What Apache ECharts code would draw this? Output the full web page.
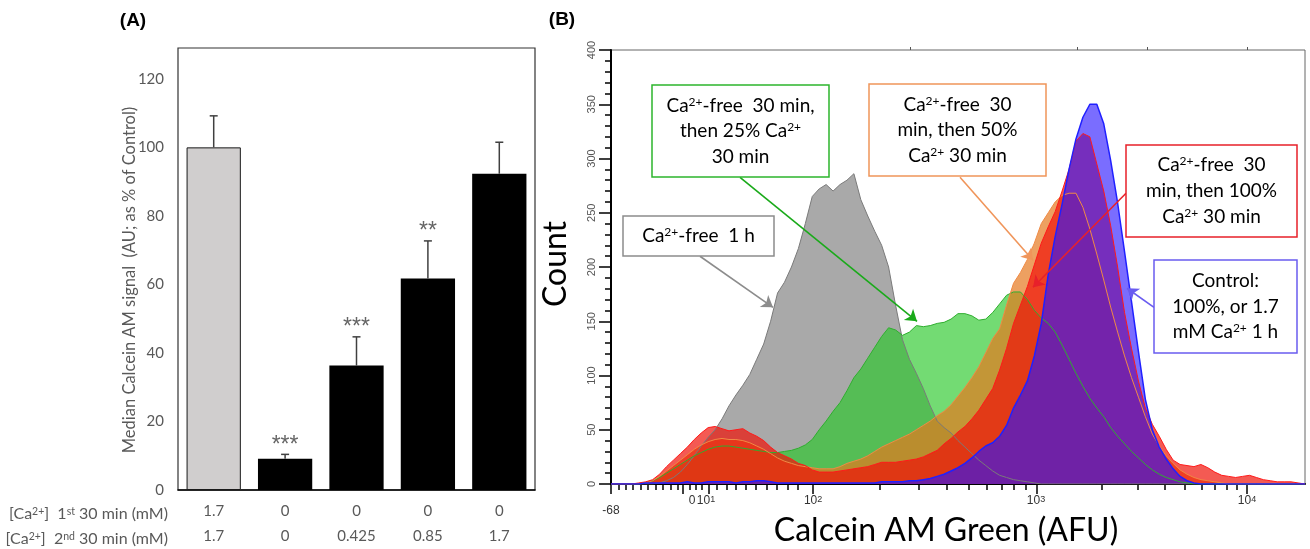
<!DOCTYPE html>
<html><head><meta charset="utf-8">
<script src="https://cdn.jsdelivr.net/npm/echarts@6/dist/echarts.min.js"></script>
<style>html,body{margin:0;padding:0;background:#fff}#c{width:1310px;height:549px}</style>
</head><body><div id="c"></div>
<script>
// ---------- Panel A data ----------
const firstPeriod = ['1.7', '0', '0', '0', '0'];
const secondPeriod = ['1.7', '0', '0.425', '0.85', '1.7'];
const medianSignal = [100, 9.1, 36.3, 61.7, 92.3];
const signalError = [9.2, 1.3, 8.4, 11.0, 9.2];
const significance = ['', '***', '***', '**', ''];

// ---------- Panel B data (display channel, counts) ----------
const channels = [0,10,20,30,40,50,60,70,80,90,100,110,120,130,140,150,160,170,180,190,200,210,220,230,240,250,260,270,280,290,300,310,320,330,340,350,360,370,380,390,400,410,420,430,440,450,460,470,480,490,500,510,520,530,540,550,560,570,580,590,600,610,620,630,640,650,660,670,680,690,700,710,720,730,740,750,760,770,780,790,800,810,820,830,840,850,860,870,880,890,900,910,920,930,940,950,960,970,980,990,1000];
const countFree1h = [0,0,0,0,0,0,0,1,3,6,11,18,26,35,43,50,60,72,82,91,101,115,129,150,176,186,200,217,240,265,272,276,270,276,280,286,262,247,233,220,200,165,133,115,102,88,72,58,52,47,40,34,28,22,17,12,8,6,4,3,2,1,0,0,0,0,0,0,0,0,0,0,0,0,0,0,0,0,0,0,0,0,0,0,0,0,0,0,0,0,0,0,0,0,0,0,0,0,0,0,0];
const count25 = [0,0,0,0,0,1,3,6,10,14,18,22,26,29,32,34,35,35,34,33,32,31,30,29,29,30,31,33,36,41,50,58,67,75,86,98,106,116,126,136,144,142,137,140,146,145,146,148,149,152,157,157,155,151,152,158,166,174,177,177,170,160,153,148,140,128,115,102,90,79,70,62,52,44,37,30,24,18,13,9,6,4,2,1,0,0,0,0,0,0,0,0,0,0,0,0,0,0,0,0,0];
const count50 = [0,0,0,0,0,1,3,7,12,17,22,27,32,36,39,41,42,41,41,40,38,35,32,28,24,21,19,17,16,15,14,14,14,16,19,21,23,26,30,34,37,40,43,46,50,54,58,63,67,73,81,89,98,108,121,134,143,165,185,195,207,222,240,250,260,266,268,268,255,235,212,188,163,140,118,98,80,62,46,35,26,19,13,9,6,4,3,2,1,0,0,0,0,0,0,0,0,0,0,0,0];
const count100 = [0,0,0,0,1,2,4,9,16,22,28,34,41,47,52,53,51,49,50,51,47,44,40,34,29,26,23,19,17,13,11,11,11,12,13,14,15,16,18,20,20,20,21,22,23,25,28,31,37,42,48,53,60,68,78,88,105,125,148,165,182,202,222,237,251,270,290,316,323,320,295,270,238,200,158,125,95,70,55,44,32,22,18,17,16,18,15,11,8,7,6,7,8,6,4,3,2,2,2,1,0];
const countControl = [0,0,0,0,0,1,1,1,1,1,1,2,1,1,2,2,2,2,1,2,2,3,3,2,1,1,1,1,1,1,1,1,1,1,1,1,1,1,1,2,2,2,2,3,3,4,5,7,9,12,15,19,24,30,35,38,44,54,70,82,95,118,148,193,228,258,290,318,338,350,350,332,298,259,214,168,122,78,50,34,23,14,7,3,1,0,0,0,0,0,0,0,0,0,0,0,0,0,0,0,0];

// x-axis ticks (display channel positions) and their labels
const xMajorTicks = [0, 103.7, 141.2, 290.3, 613.1, 916.4];
const xMinorTicks = [11.5,21.6,31.7,43.2,53.3,64.8,74.9,86.5,96.5,113.8,122.5,131.1,152.7,167.1,180.1,194.5,208.9,224.8,239.2,255.0,269.5,
  387.6,443.8,484.1,515.9,541.8,563.4,580.7,598.0,707.1,759.4,798.3,827.1,851.2,870.3,887.2,901.6];
const xTopTicks = [430.8, 671.5, 772.3, 916.4];
const xLabelPos = [0, 116.7, 136.9, 291.2, 612.4, 916.4];
const xLabelText = ['-68', '0', '10^1', '10^2', '10^3', '10^4'];

const SANS = 'Lato, "Noto Sans", sans-serif';
const ARIAL = '"Liberation Sans", Arial, sans-serif';
const GREY_TXT = '#595959';

const chart = echarts.init(document.getElementById('c'), null, {renderer: 'canvas'});

const categories = firstPeriod.map((a, i) => a + '\n' + secondPeriod[i]);

function xLabelFmt(v) {
  let idx = -1;
  xLabelPos.forEach((p, i) => { if (Math.abs(p - v) < 0.05) idx = i; });
  if (idx < 0) return '';
  const t = xLabelText[idx];
  if (t.indexOf('^') >= 0) { const [b, e] = t.split('^'); return '{b|' + b + '}{s|' + e + '}'; }
  if (t === '-68') return '{low|' + t + '}';
  return '{b|' + t + '}';
}

function pair(xs, ys) { return xs.map((x, i) => [x, ys[i]]); }

function box(x, y, w, h, color, lines, lineGap) {
  const els = [{type: 'rect', shape: {x: x, y: y, width: w, height: h},
    style: {fill: '#fff', stroke: color, lineWidth: 1.5}, z: 100}];
  const n = lines.length;
  lines.forEach((t, i) => {
    els.push({type: 'text', x: x + w / 2, y: y + h / 2 + (i - (n - 1) / 2) * lineGap, z: 101,
      style: {text: t, align: 'center', verticalAlign: 'middle', fontSize: 19, fontFamily: SANS, fill: '#000',
        rich: {s: {fontSize: 12, verticalAlign: 'top', lineHeight: 14, fontFamily: SANS, fill: '#000'}}}});
  });
  return els;
}

const arrowDefs = [
  {from: [128.2, 209.9], to: [233.4, 162.8], color: '#8c8c8c'},
  {from: [185.9, 282.7], to: [440.9, 149.9], color: '#1aaa1a'},
  {from: [502.9, 282.7], to: [608.1, 206.2], color: '#f0955a'},
  {from: [742.1, 268.0], to: [608.1, 181.3], color: '#e8202a'},
  {from: [782.4, 162.8], to: [743.5, 180.4], color: '#6a5cf0'}
];

const option = {
  animation: false,
  grid: [
    {left: 178, top: 48, width: 357, height: 444, show: true, borderColor: '#333', borderWidth: 1.2, backgroundColor: 'transparent'},
    {left: 611, top: 50, width: 694, height: 434, show: true, borderColor: '#666', borderWidth: 1, backgroundColor: 'transparent'}
  ],
  xAxis: [
    {gridIndex: 0, type: 'category', data: categories,
      axisTick: {show: false}, axisLine: {lineStyle: {color: '#000', width: 1.5}},
      axisLabel: {fontSize: 15, lineHeight: 25, color: GREY_TXT, fontFamily: SANS, margin: 9}},
    {gridIndex: 1, type: 'value', min: 0, max: 1000, position: 'bottom',
      axisLine: {show: true, onZero: false, lineStyle: {color: '#000', width: 2}},
      axisTick: {show: true, length: 10, customValues: xMajorTicks, lineStyle: {color: '#000', width: 1.5}},
      axisLabel: {show: false}, splitLine: {show: false}},
    {gridIndex: 1, type: 'value', min: 0, max: 1000, position: 'bottom',
      axisLine: {show: false, onZero: false},
      axisTick: {show: true, length: 6, customValues: xMinorTicks, lineStyle: {color: '#000', width: 1.5}},
      axisLabel: {show: false}, splitLine: {show: false}},
    {gridIndex: 1, type: 'value', min: 0, max: 1000, position: 'bottom',
      axisLine: {show: false, onZero: false}, axisTick: {show: false},
      axisLabel: {show: true, customValues: xLabelPos, formatter: xLabelFmt, margin: 11,
        rich: {b: {fontSize: 12, fontFamily: ARIAL, color: '#333'},
               s: {fontSize: 9, fontFamily: ARIAL, color: '#333', verticalAlign: 'top', lineHeight: 9},
               low: {fontSize: 12, fontFamily: ARIAL, color: '#333', padding: [10, 0, 0, 0]}}},
      splitLine: {show: false}},
    {gridIndex: 1, type: 'value', min: 0, max: 1000, position: 'top',
      axisLine: {show: false, onZero: false},
      axisTick: {show: true, length: 3, customValues: xTopTicks, lineStyle: {color: '#555'}},
      axisLabel: {show: false}, splitLine: {show: false}}
  ],
  yAxis: [
    {gridIndex: 0, type: 'value', min: 0, max: 129, interval: 20,
      axisLine: {show: false}, axisTick: {show: false}, splitLine: {show: false},
      axisLabel: {fontSize: 15, color: GREY_TXT, fontFamily: SANS, margin: 14, showMaxLabel: false}},
    {gridIndex: 1, type: 'value', min: 0, max: 400, interval: 50,
      axisLine: {show: true, lineStyle: {color: '#000', width: 2}},
      axisTick: {show: true, length: 12, lineStyle: {color: '#000', width: 1.5}},
      minorTick: {show: true, splitNumber: 5, length: 6, lineStyle: {color: '#000', width: 1.5}},
      splitLine: {show: false}, minorSplitLine: {show: false},
      axisLabel: {rotate: 90, fontSize: 11, color: '#555', fontFamily: ARIAL, margin: 14}}
  ],
  series: [
    {type: 'bar', xAxisIndex: 0, yAxisIndex: 0, barWidth: '76%',
      data: medianSignal.map((v, i) => ({value: v,
        itemStyle: i === 0 ? {color: '#d0cece', borderColor: '#1a1a1a', borderWidth: 1} : {color: '#000'}}))},
    {type: 'custom', xAxisIndex: 0, yAxisIndex: 0, z: 5,
      data: medianSignal.map((v, i) => [i, v, v + signalError[i]]),
      renderItem: function (params, api) {
        const i = api.value(0);
        const p0 = api.coord([i, api.value(1)]);
        const p1 = api.coord([i, api.value(2)]);
        const st = {stroke: '#404040', lineWidth: 1.5};
        const ch = [
          {type: 'line', shape: {x1: p0[0], y1: p0[1], x2: p1[0], y2: p1[1]}, style: st},
          {type: 'line', shape: {x1: p1[0] - 4, y1: p1[1], x2: p1[0] + 4, y2: p1[1]}, style: st}
        ];
        const sig = significance[params.dataIndex];
        if (sig) ch.push({type: 'text', x: p1[0], y: p1[1] - 9,
          style: {text: sig, align: 'center', verticalAlign: 'middle', fontSize: 23, fontFamily: ARIAL, fill: '#666'}});
        return {type: 'group', children: ch};
      }},
    {type: 'line', name: 'Ca-free 1 h', xAxisIndex: 1, yAxisIndex: 1, symbol: 'none',
      data: pair(channels, countFree1h), lineStyle: {color: '#7a7a7a', width: 1},
      areaStyle: {color: 'rgba(150,150,150,0.82)', opacity: 1}},
    {type: 'line', name: '25%', xAxisIndex: 1, yAxisIndex: 1, symbol: 'none',
      data: pair(channels, count25), lineStyle: {color: '#2fae2f', width: 1},
      areaStyle: {color: 'rgba(40,200,40,0.65)', opacity: 1}},
    {type: 'line', name: '50%', xAxisIndex: 1, yAxisIndex: 1, symbol: 'none',
      data: pair(channels, count50), lineStyle: {color: '#f08a45', width: 1},
      areaStyle: {color: 'rgba(230,120,30,0.7)', opacity: 1}},
    {type: 'line', name: '100%', xAxisIndex: 1, yAxisIndex: 1, symbol: 'none',
      data: pair(channels, count100), lineStyle: {color: '#ff1a1a', width: 1},
      areaStyle: {color: 'rgba(240,20,10,0.7)', opacity: 1}},
    {type: 'line', name: 'Control', xAxisIndex: 1, yAxisIndex: 1, symbol: 'none',
      data: pair(channels, countControl), lineStyle: {color: '#2020ff', width: 1.5},
      areaStyle: {color: 'rgba(40,20,255,0.62)', opacity: 1},
      markLine: {silent: true, symbol: ['none', 'arrow'], symbolSize: 11, label: {show: false},
        data: arrowDefs.map(a => [
          {coord: a.from, lineStyle: {color: a.color, width: 1.6, type: 'solid'}, itemStyle: {color: a.color}},
          {coord: a.to}
        ])}}
  ],
  graphic: [
    {type: 'text', x: 133, y: 21, style: {text: '(A)', font: 'bold 19px ' + ARIAL, fill: '#000', align: 'center', verticalAlign: 'middle'}},
    {type: 'text', x: 562, y: 20, style: {text: '(B)', font: 'bold 19px ' + ARIAL, fill: '#000', align: 'center', verticalAlign: 'middle'}},
    {type: 'text', x: 130, y: 280, rotation: Math.PI / 2,
      style: {text: 'Median Calcein AM signal  (AU; as % of Control)', fontSize: 16.5, fontFamily: SANS, fill: GREY_TXT, align: 'center', verticalAlign: 'middle'}},
    {type: 'text', x: 168, y: 514,
      style: {text: '[Ca{s|2+}]  1{s|st} 30 min (mM)', fontSize: 16, fontFamily: SANS, fill: GREY_TXT, align: 'right', verticalAlign: 'middle',
        rich: {s: {fontSize: 10.5, verticalAlign: 'top', lineHeight: 12, fontFamily: SANS, fill: GREY_TXT}}}},
    {type: 'text', x: 168, y: 539,
      style: {text: '[Ca{s|2+}]  2{s|nd} 30 min (mM)', fontSize: 16, fontFamily: SANS, fill: GREY_TXT, align: 'right', verticalAlign: 'middle',
        rich: {s: {fontSize: 10.5, verticalAlign: 'top', lineHeight: 12, fontFamily: SANS, fill: GREY_TXT}}}},
    {type: 'text', x: 556, y: 264, rotation: Math.PI / 2,
      style: {text: 'Count', fontSize: 32, fontFamily: SANS, fill: '#000', align: 'center', verticalAlign: 'middle'}},
    {type: 'text', x: 946, y: 531,
      style: {text: 'Calcein AM Green (AFU)', fontSize: 32, fontFamily: SANS, fill: '#000', align: 'center', verticalAlign: 'middle'}},
    ...box(623, 216, 151, 40, '#8c8c8c', ['Ca{s|2+}-free  1 h'], 25.5),
    ...box(652, 85, 177, 92, '#2db52d', ['Ca{s|2+}-free  30 min,', 'then 25% Ca{s|2+}', '30 min'], 25.5),
    ...box(869, 84, 177, 92, '#f0955a', ['Ca{s|2+}-free  30', 'min, then 50%', 'Ca{s|2+} 30 min'], 25.5),
    ...box(1126, 145, 171, 92, '#e8202a', ['Ca{s|2+}-free  30', 'min, then 100%', 'Ca{s|2+} 30 min'], 26),
    ...box(1154, 260, 143, 93, '#6a5cf0', ['Control:', '100%, or 1.7', 'mM Ca{s|2+} 1 h'], 25.5)
  ]
};
chart.setOption(option);
</script>
</body></html>
